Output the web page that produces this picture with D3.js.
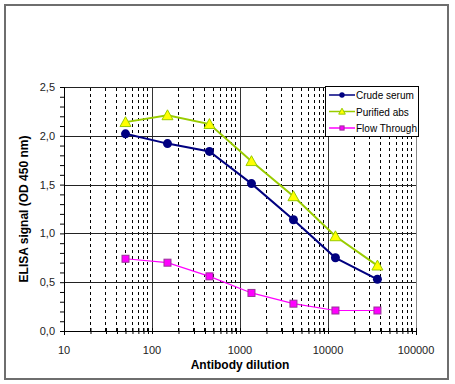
<!DOCTYPE html>
<html><head><meta charset="utf-8">
<script src="https://cdn.jsdelivr.net/npm/d3@7"></script>
<style>body{margin:0;background:#fff;}svg{display:block;font-family:Arial,"Liberation Sans",sans-serif;}</style>
</head><body>
<script>
const dilutions = [50, 150, 450, 1350, 4050, 12150, 36450];
const crudeSerum = [2.02, 1.92, 1.84, 1.51, 1.14, 0.75, 0.53];
const purifiedAbs = [2.14, 2.21, 2.12, 1.74, 1.38, 0.97, 0.67];
const flowThrough = [0.74, 0.70, 0.56, 0.39, 0.28, 0.21, 0.21];
const seriesNames = ["Crude serum", "Purified abs", "Flow Through"];
const xTickLabels = ["10", "100", "1000", "10000", "100000"];
const yTickLabels = ["0,0", "0,5", "1,0", "1,5", "2,0", "2,5"];

const W = 455, H = 384;
const svg = d3.select("body").append("svg").attr("width", W).attr("height", H);

// outer frame
svg.append("rect").attr("x", 5).attr("y", 5).attr("width", 443).attr("height", 374)
  .attr("fill", "#fff").attr("stroke", "#6e6e6e").attr("stroke-width", 2);

const x = d3.scaleLog().domain([10, 100000]).range([64, 416]);
const y = d3.scaleLinear().domain([0, 2.5]).range([331, 87]);

const g = svg.append("g");
// minor vertical dashed grid
const minors = [];
for (let d = 10; d < 100000; d *= 10) for (let k = 2; k <= 9; k++) minors.push(d * k);
g.selectAll(".vminor").data(minors).enter().append("line")
  .attr("x1", d => x(d)).attr("x2", d => x(d)).attr("y1", y(0)).attr("y2", y(2.5))
  .attr("stroke", "#000").attr("stroke-width", 1).attr("stroke-dasharray", "3,3").attr("shape-rendering", "crispEdges");
// major vertical grid
g.selectAll(".vmajor").data([100, 1000, 10000]).enter().append("line")
  .attr("x1", d => Math.round(x(d)) + 0.5).attr("x2", d => Math.round(x(d)) + 0.5).attr("y1", y(0)).attr("y2", y(2.5))
  .attr("stroke", "#333").attr("stroke-width", 1);
// horizontal grid
g.selectAll(".hmajor").data([0.5, 1, 1.5, 2, 2.5]).enter().append("line")
  .attr("x1", x(10)).attr("x2", x(100000)).attr("y1", d => Math.round(y(d)) + 0.5).attr("y2", d => Math.round(y(d)) + 0.5)
  .attr("stroke", "#222").attr("stroke-width", 1);
// right border
g.append("line").attr("x1", x(100000) + 0.5).attr("x2", x(100000) + 0.5).attr("y1", y(0)).attr("y2", y(2.5))
  .attr("stroke", "#888");

// y axis
const yAxis = d3.axisLeft(y).tickValues(d3.range(0, 26).map(i => i / 10)).tickSize(4).tickFormat("");
const ya = svg.append("g").attr("transform", `translate(${x(10)},0)`).call(yAxis);
ya.select(".domain").attr("stroke", "#000");
ya.selectAll(".tick line").attr("stroke", "#000");
svg.selectAll(".ylab").data(yTickLabels).enter().append("text")
  .attr("x", 55).attr("y", (d, i) => y(i * 0.5) + 4).attr("text-anchor", "end")
  .attr("font-size", 11).attr("fill", "#222").text(d => d);

// x axis
const xa = svg.append("g").attr("transform", `translate(0,${y(0)})`)
  .call(d3.axisBottom(x).tickValues([10, 100, 1000, 10000, 100000].concat(minors)).tickSize(4).tickFormat(""));
xa.select(".domain").attr("stroke", "#000");
xa.selectAll(".tick line").attr("stroke", "#000").attr("y1", -3).attr("y2", 3);
svg.selectAll(".xlab").data(xTickLabels).enter().append("text")
  .attr("x", (d, i) => x(Math.pow(10, i + 1))).attr("y", 354).attr("text-anchor", "middle")
  .attr("font-size", 11).attr("fill", "#222").text(d => d);

// axis titles
svg.append("text").attr("x", 240).attr("y", 369).attr("text-anchor", "middle")
  .attr("font-size", 12).attr("font-weight", "bold").text("Antibody dilution");
svg.append("text").attr("transform", "translate(28,209) rotate(-90)").attr("text-anchor", "middle")
  .attr("font-size", 12).attr("font-weight", "bold").text("ELISA signal (OD 450 nm)");

const line = d3.line().x(d => x(d[0])).y(d => y(d[1]));
const styles = [
  {stroke: "#000080", fill: "#000080", mstroke: "#000080", shape: "circle"},
  {stroke: "#99cc00", fill: "#ffff00", mstroke: "#99cc00", shape: "triangle"},
  {stroke: "#ff00ff", fill: "#ff00ff", mstroke: "#993399", shape: "square"}
];
const allData = [crudeSerum, purifiedAbs, flowThrough];
function marker(sel, st, cx, cy, sc) {
  if (st.shape === "circle") sel.append("circle").attr("cx", cx).attr("cy", cy).attr("r", 4.5 * sc).attr("fill", st.fill);
  else if (st.shape === "triangle") {
    const s = 5.5 * sc;
    sel.append("path").attr("d", `M${cx},${cy - s}L${cx + s},${cy + s * 0.8}L${cx - s},${cy + s * 0.8}Z`)
      .attr("fill", st.fill).attr("stroke", st.mstroke).attr("stroke-width", 1);
  } else sel.append("rect").attr("x", cx - 3.5 * sc).attr("y", cy - 3.5 * sc).attr("width", 7 * sc).attr("height", 7 * sc)
      .attr("fill", st.fill).attr("stroke", st.mstroke).attr("stroke-width", 1);
}
allData.forEach((vals, si) => {
  const st = styles[si];
  const pts = dilutions.map((d, i) => [d, vals[i]]);
  svg.append("path").attr("d", line(pts)).attr("fill", "none").attr("stroke", st.stroke).attr("stroke-width", si === 2 ? 1.2 : 2);
  const mg = svg.append("g");
  pts.forEach(p => marker(mg, st, x(p[0]), y(p[1]), 1));
});

// legend
const lg = svg.append("g");
lg.append("rect").attr("x", 325.5).attr("y", 86.5).attr("width", 93).attr("height", 50)
  .attr("fill", "#fff").attr("stroke", "#000");
seriesNames.forEach((n, i) => {
  const yy = 95 + i * 16.5;
  const st = styles[i];
  lg.append("line").attr("x1", 329).attr("x2", 355).attr("y1", yy).attr("y2", yy).attr("stroke", st.stroke).attr("stroke-width", 1.5);
  marker(lg, st, 342, yy, 0.6);
  lg.append("text").attr("x", 356).attr("y", yy + 4).attr("font-size", 10).attr("fill", "#000").text(n);
});
</script>
</body></html>
